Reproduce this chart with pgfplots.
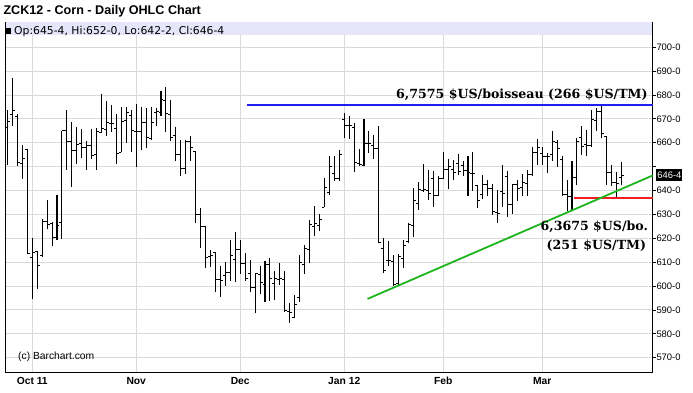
\documentclass[border=0pt]{standalone}
\usepackage{pgfplots}
\pgfplotsset{compat=1.18}
\usepackage{pgfplotstable}
\usepackage{fontspec}
\setmainfont{Liberation Sans}
\newfontfamily\hdrfont{DejaVu Sans}
\newfontfamily\annotfont{DejaVu Serif}
\definecolor{band}{HTML}{E6E6FA}
\definecolor{gridc}{HTML}{D9D9D9}
\definecolor{trend}{HTML}{1EB41E}
\definecolor{resist}{HTML}{1E1EF0}
\definecolor{supp}{HTML}{F01E1E}

\pgfplotstableread{
i o h l c
0 666.2 673.9 650.8 668.7
1 672.0 686.9 666.9 673.6
2 671.0 672.0 650.1 651.8
3 651.2 659.2 644.8 653.6
4 657.1 657.4 613.3 613.8
5 612.1 620.0 594.5 614.0
6 614.4 614.7 598.7 608.7
7 612.6 628.0 612.3 627.0
8 627.0 636.1 623.8 625.6
9 626.3 626.6 616.6 620.5
10 620.5 638.2 619.1 625.2
11 626.8 665.1 619.8 665.1
12 665.1 673.5 648.4 660.4
13 660.4 668.8 641.3 656.7
14 656.7 666.6 651.1 659.2
15 659.5 665.8 653.5 658.2
16 658.2 660.9 648.4 658.8
17 658.8 665.8 653.3 654.6
18 654.9 666.2 648.4 664.8
19 664.4 680.2 664.1 665.8
20 665.5 677.6 662.7 668.3
21 668.0 675.7 664.4 668.0
22 665.9 672.2 651.2 655.3
23 656.1 674.8 656.1 669.0
24 669.3 674.8 659.9 672.5
25 671.4 673.9 656.0 665.3
26 664.8 676.4 649.7 664.6
27 664.8 674.8 657.1 668.6
28 668.6 674.6 657.8 662.0
29 661.8 674.8 661.3 668.3
30 672.5 674.4 666.9 673.2
31 672.5 681.8 671.1 678.3
32 677.5 683.4 664.4 672.1
33 671.8 678.1 660.6 662.0
34 663.1 666.5 652.2 655.0
35 655.0 661.3 645.9 649.4
36 649.4 661.3 646.9 660.6
37 660.6 663.0 652.2 658.2
38 656.4 656.7 626.3 630.1
39 629.8 632.8 616.1 624.9
40 624.9 625.2 607.5 612.1
41 612.4 615.2 607.9 612.6
42 614.0 614.4 597.7 602.8
43 602.6 608.2 595.3 602.2
44 604.5 610.2 599.8 605.8
45 605.8 619.3 601.9 612.6
46 611.2 622.8 601.9 615.4
47 615.4 619.3 604.9 609.6
48 609.6 613.8 601.9 603.3
49 605.1 611.0 597.7 599.5
50 599.5 605.1 588.9 605.1
51 604.7 608.2 596.6 601.5
52 600.8 610.3 593.1 608.9
53 608.9 611.7 593.9 603.3
54 600.9 606.1 594.2 603.0
55 602.9 609.8 600.5 603.3
56 602.6 606.4 589.3 589.7
57 589.3 592.8 584.7 588.9
58 586.9 596.3 586.5 592.1
59 595.3 613.1 593.5 609.8
60 608.9 617.3 604.9 615.9
61 615.2 627.7 609.8 625.6
62 625.0 633.6 620.8 626.3
63 625.2 630.3 622.9 628.0
64 633.0 645.2 633.0 641.4
65 639.2 654.3 638.2 650.1
66 647.3 654.3 643.8 645.2
67 645.2 656.8 643.8 655.0
68 669.7 672.5 662.0 667.2
69 667.2 671.1 661.6 667.2
70 666.6 668.3 647.6 651.8
71 651.5 657.4 650.1 650.8
72 650.4 670.0 650.1 659.6
73 659.6 664.8 655.7 659.5
74 658.8 663.4 653.2 657.4
75 657.4 666.9 618.2 618.2
76 615.9 620.1 605.4 606.5
77 610.7 618.7 608.5 610.7
78 610.3 613.1 599.8 600.5
79 600.9 613.5 600.5 612.4
80 611.7 619.4 607.5 616.8
81 618.7 626.6 618.2 625.6
82 625.2 641.0 620.5 635.9
83 634.5 643.4 631.9 640.6
84 640.1 651.2 639.2 640.3
85 640.1 648.4 636.1 638.9
86 645.2 648.0 633.3 637.8
87 637.8 645.9 637.5 645.2
88 645.2 656.0 644.8 648.7
89 649.0 653.2 640.6 650.1
90 649.0 652.9 644.5 647.6
91 651.5 655.4 646.6 648.0
92 650.5 652.2 645.9 648.3
93 648.3 654.3 637.5 647.7
94 647.3 656.1 639.6 647.3
95 642.1 642.4 632.6 635.7
96 638.5 646.6 636.5 642.4
97 642.4 644.5 637.5 641.0
98 640.7 642.7 629.8 631.2
99 631.0 640.3 626.4 630.5
100 639.6 650.5 633.3 638.9
101 645.9 648.0 628.7 634.0
102 634.0 642.7 630.1 642.4
103 642.4 644.5 635.4 641.0
104 641.3 646.9 637.5 643.5
105 643.1 648.7 637.5 646.6
106 646.6 658.1 645.9 656.1
107 656.1 661.7 650.8 658.1
108 655.7 658.1 650.8 654.3
109 654.3 655.7 647.3 654.3
110 655.0 665.0 652.5 660.6
111 660.0 661.3 650.0 657.8
112 653.0 654.3 637.5 638.2
113 638.5 644.5 631.5 637.5
114 637.5 652.5 632.0 645.5
115 645.5 662.0 642.1 660.6
116 662.3 666.9 655.0 658.5
117 659.2 665.5 654.3 658.9
118 658.9 673.9 658.2 669.7
119 669.3 674.6 665.1 673.2
120 673.2 675.3 662.0 663.7
121 662.7 662.7 642.1 647.7
122 647.7 650.8 641.7 643.5
123 643.5 647.6 636.6 643.1
124 645.5 652.0 642.25 646.5
}\ohlc

\begin{document}
\begin{tikzpicture}[x=1pt,y=1pt]
\useasboundingbox (0,0) rectangle (693,393);
\node[anchor=base west, inner sep=0, font=\bfseries\fontsize{12.6}{14}\selectfont] at (3.3,378) {ZCK12 - Corn - Daily OHLC Chart};
\begin{axis}[
  at={(5.7pt,21pt)}, anchor=south west, scale only axis,
  width=647pt, height=350pt,
  xmin=-0.36, xmax=130.3, ymin=564.0, ymax=710.55,
  clip=false,
  axis line style={black, line width=0.9pt},
  xtick={5,26,47,68,88,108},
  xticklabels={Oct 11,Nov,Dec,Jan 12,Feb,Mar},
  ytick={570,580,590,600,610,620,630,640,650,660,670,680,690,700},
  yticklabels={570-0,580-0,590-0,600-0,610-0,620-0,630-0,640-0,,660-0,670-0,680-0,690-0,700-0},
  ytick pos=right, yticklabel pos=right,
  xtick pos=bottom,
  tick align=outside,
  major tick length=3pt,
  xtick style={draw=none},
  ytick style={black, line width=0.7pt},
  grid=major, grid style={gridc, line width=0.9pt},
  xticklabel style={font=\bfseries\fontsize{10.3}{11}\selectfont, anchor=base, yshift=-10pt},
  yticklabel style={font=\fontsize{9.4}{10}\selectfont, inner sep=0.6pt, anchor=west},
]
\fill[band] (axis cs:-0.3,705.2) rectangle (axis cs:130.2,710.45);
% OHLC: high-low bars
\addplot[draw=none, mark=none, forget plot,
  error bars/.cd, y dir=both, y explicit, error mark=none,
  error bar style={draw=black, line width=1.05pt}]
  table[x=i, y expr={(\thisrow{h}+\thisrow{l})/2}, y error expr={(\thisrow{h}-\thisrow{l})/2}] {\ohlc};
% open ticks
\addplot[draw=none, mark=none, forget plot,
  error bars/.cd, x dir=minus, x fixed=0.5, error mark=none,
  error bar style={draw=black, line width=0.9pt}]
  table[x=i, y=o] {\ohlc};
% close ticks
\addplot[draw=none, mark=none, forget plot,
  error bars/.cd, x dir=plus, x fixed=0.5, error mark=none,
  error bar style={draw=black, line width=0.9pt}]
  table[x=i, y=c] {\ohlc};
% annotation lines
\addplot[resist, line width=2pt, mark=none] coordinates {(48.4,675.75) (130.3,675.75)};
\addplot[supp, line width=2pt, mark=none] coordinates {(114.5,636.75) (130.3,636.75)};
\addplot[trend, line width=1.8pt, mark=none] coordinates {(72.7,594.6) (130.3,646.3)};
% texts
\node[anchor=east, inner sep=0, font=\annotfont\bfseries\fontsize{12.6}{14}\selectfont] at (axis cs:129.3,680.0) {6,7575 \$US/boisseau (266 \$US/TM)};
\node[anchor=east, inner sep=0, font=\annotfont\bfseries\fontsize{12.6}{14}\selectfont] at (axis cs:129.4,624.8) {6,3675 \$US/bo.};
\node[anchor=east, inner sep=0, font=\annotfont\bfseries\fontsize{12.6}{14}\selectfont] at (axis cs:129.0,616.8) {(251 \$US/TM)};
\node[anchor=west, fill=black, text=white, inner xsep=1pt, inner ysep=0pt, minimum height=12.5pt, font=\fontsize{9.4}{10}\selectfont, xshift=3.5pt] at (axis cs:130.3,646.5) {646-4};
\end{axis}
\fill[black] (6.2,359) rectangle (11.2,364.5);
\node[anchor=base west, inner sep=0, font=\hdrfont\fontsize{10.8}{12}\selectfont] at (14,358.7) {Op:645-4, Hi:652-0, Lo:642-2, Cl:646-4};
\node[anchor=west, inner sep=0, font=\fontsize{10.3}{11}\selectfont] at (18,36) {(c) Barchart.com};
\end{tikzpicture}
\end{document}
